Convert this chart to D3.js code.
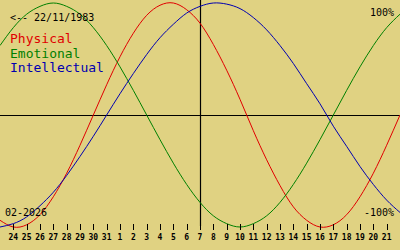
<!DOCTYPE html>
<html lang="en">
<head>
	<meta charset="UTF-8">
	<title>Biorhythm</title>
	<script src="https://cdn.jsdelivr.net/npm/d3@7"></script>
	<style>
		html,body{
			margin:0;
			padding:0;
			background:#e0d282;
		}
		svg{
			display:block;
			font-family:"DejaVu Sans Mono",monospace;
		}
	</style>
</head>
<body>
	<svg width="400" height="250"></svg>
	<script>
		// day labels, one per day starting 23 Jan 2026 (index 0, unlabeled)
		var days = [23,24,25,26,27,28,29,30,31,1,2,3,4,5,6,7,8,9,10,11,12,13,14,15,16,17,18,19,20,21,22];
		var physical = [-0.94,-1.00,-0.98,-0.89,-0.73,-0.52,-0.27,0,0.27,0.52,0.73,0.89,0.98,1.00,0.94,0.82,0.63,0.40,0.14,-0.14,-0.40,-0.63,-0.82,-0.94,-1.00,-0.98,-0.89,-0.73,-0.52,-0.27,0];
		var emotional = [0.62,0.78,0.90,0.97,1.00,0.97,0.90,0.78,0.62,0.43,0.22,0,-0.22,-0.43,-0.62,-0.78,-0.90,-0.97,-1.00,-0.97,-0.90,-0.78,-0.62,-0.43,-0.22,0,0.22,0.43,0.62,0.78,0.90];
		var intellectual = [-1.00,-0.97,-0.91,-0.81,-0.69,-0.54,-0.37,-0.19,0,0.19,0.37,0.54,0.69,0.81,0.91,0.97,1.00,0.99,0.95,0.87,0.76,0.62,0.46,0.28,0.10,-0.10,-0.28,-0.46,-0.62,-0.76,-0.87];
		var seriesNames = ["Physical","Emotional","Intellectual"];
		var seriesColors = ["#e00000","#008000","#0000b0"];

		var svg = d3.select("svg");
		var w = 400, h = 250;

		var x = d3.scaleLinear().domain([0,30]).range([0,400]);
		var y = d3.scaleLinear().domain([-1,1]).range([227,3]);

		// axes
		svg.append("line")
			.attr("x1",0).attr("x2",w)
			.attr("y1",115.5).attr("y2",115.5)
			.attr("stroke","#000").attr("stroke-width",1.2);
		svg.append("line")
			.attr("x1",200.5).attr("x2",200.5)
			.attr("y1",0).attr("y2",226)
			.attr("stroke","#000").attr("stroke-width",1.2);

		var line = d3.line()
			.x(function(d,i){ return x(i); })
			.y(function(d){ return y(d); })
			.curve(d3.curveNatural);

		var g_lines = svg.append("g");
		[physical,emotional,intellectual].forEach(function(s,k){
			g_lines.append("path")
				.datum(s)
				.attr("d",line)
				.attr("fill","none")
				.attr("stroke",seriesColors[k])
				.attr("stroke-width",1);
		});

		// day ticks
		var idx = d3.range(1,30);
		var g_ticks = svg.append("g");
		g_ticks.selectAll("line")
			.data(idx).enter().append("line")
			.attr("x1",function(d){ return Math.round(x(d))+0.5; })
			.attr("x2",function(d){ return Math.round(x(d))+0.5; })
			.attr("y1",224).attr("y2",230)
			.attr("stroke","#000");
		g_ticks.selectAll("text")
			.data(idx).enter().append("text")
			.attr("x",function(d){ return x(d); })
			.attr("y",240)
			.attr("text-anchor","middle")
			.attr("font-size","8px")
			.attr("font-weight","bold")
			.text(function(d){ return days[d]; });

		// labels
		svg.append("text").attr("x",10).attr("y",21)
			.attr("font-size","10px").text("<-- 22/11/1983");
		svg.append("text").attr("x",394).attr("y",16)
			.attr("text-anchor","end").attr("font-size","10px").text("100%");
		svg.append("text").attr("x",394).attr("y",216)
			.attr("text-anchor","end").attr("font-size","10px").text("-100%");
		svg.append("text").attr("x",5).attr("y",216)
			.attr("font-size","10px").text("02-2026");

		svg.selectAll("text.legend")
			.data(seriesNames).enter().append("text")
			.attr("class","legend")
			.attr("x",10)
			.attr("y",function(d,i){ return 43 + i*14.5; })
			.attr("font-size","13px")
			.attr("fill",function(d,i){ return seriesColors[i]; })
			.text(function(d){ return d; });
	</script>
</body>
</html>
